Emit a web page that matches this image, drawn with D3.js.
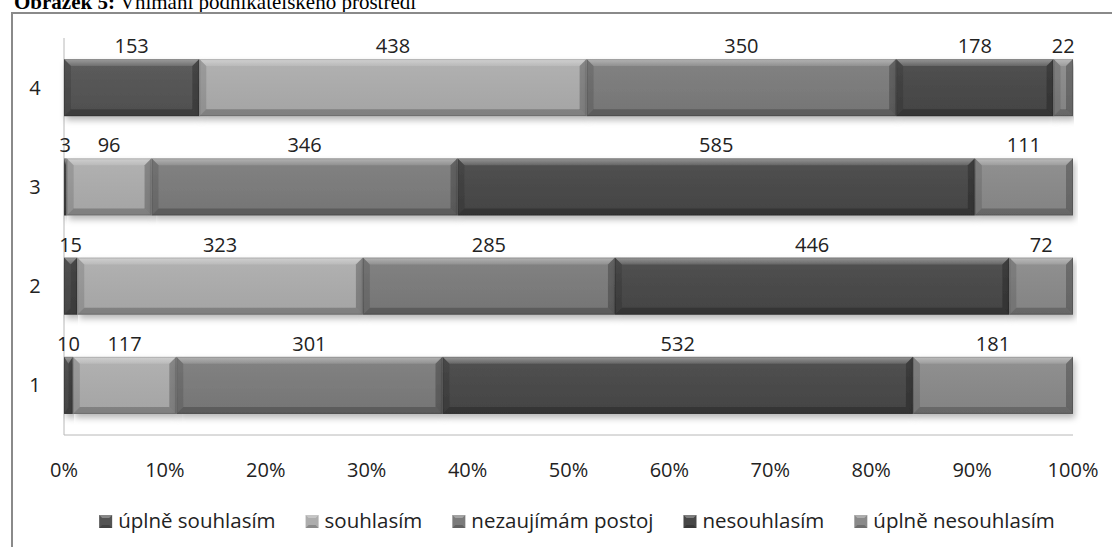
<!DOCTYPE html>
<html><head><meta charset="utf-8">
<script src="https://cdn.jsdelivr.net/npm/d3@7"></script>
<style>body{margin:0;background:#fff;overflow:hidden}</style>
</head><body>
<svg id="c" width="1112" height="547"></svg>
<script>
const categories = ["1", "2", "3", "4"];
const seriesNames = ["úplně souhlasím", "souhlasím", "nezaujímám postoj", "nesouhlasím", "úplně nesouhlasím"];
const uplneSouhlasim = [10, 15, 3, 153];
const souhlasim = [117, 323, 96, 438];
const nezaujimam = [301, 285, 346, 350];
const nesouhlasim = [532, 446, 585, 178];
const uplneNesouhlasim = [181, 72, 111, 22];
const xTicks = [0, 0.1, 0.2, 0.3, 0.4, 0.5, 0.6, 0.7, 0.8, 0.9, 1];
const seriesColors = ["#535353", "#adadad", "#7b7b7b", "#474747", "#8a8a8a"];

const seriesValues = [uplneSouhlasim, souhlasim, nezaujimam, nesouhlasim, uplneNesouhlasim];
const table = categories.map((c, i) => {
  const row = {cat: c};
  seriesNames.forEach((s, j) => row[s] = seriesValues[j][i]);
  return row;
});

const svg = d3.select("#c");
const font = "'Open Sans', sans-serif";
const fs = 20;

// Title (cut off at top, as in the source)
const title = svg.append("text").attr("x", 14).attr("y", 9)
  .attr("font-family", "'Liberation Serif', 'Times New Roman', serif").attr("font-size", 21).attr("fill", "#000");
title.append("tspan").attr("font-weight", "bold").text("Obrázek 5:");
title.append("tspan").text(" Vnímání podnikatelského prostředí");

// Frame
svg.append("rect").attr("x", 12).attr("y", 13).attr("width", 1120).attr("height", 560)
  .attr("fill", "none").attr("stroke", "#8a8a8a").attr("stroke-width", 2);

const defs = svg.append("defs");
defs.append("filter").attr("id", "sh").attr("x", "-5%").attr("y", "-20%").attr("width", "110%").attr("height", "160%")
  .append("feDropShadow").attr("dx", 2).attr("dy", 4).attr("stdDeviation", 3)
  .attr("flood-color", "#000").attr("flood-opacity", 0.28);
const tg = defs.append("linearGradient").attr("id", "topg").attr("x1", 0).attr("y1", 0).attr("x2", 0).attr("y2", 1);
tg.append("stop").attr("offset", 0).attr("stop-color", "#fff").attr("stop-opacity", 0.4);
tg.append("stop").attr("offset", 1).attr("stop-color", "#fff").attr("stop-opacity", 0.12);
const mg = defs.append("linearGradient").attr("id", "midg").attr("x1", 0).attr("y1", 0).attr("x2", 0).attr("y2", 1);
mg.append("stop").attr("offset", 0).attr("stop-color", "#fff").attr("stop-opacity", 0.06);
mg.append("stop").attr("offset", 1).attr("stop-color", "#000").attr("stop-opacity", 0.05);

const x = d3.scaleLinear().domain([0, 1]).range([64, 1073]);
const y = d3.scaleBand().domain(categories.slice().reverse()).range([38, 435]).paddingInner(0.425).paddingOuter(0.2125);

// axis lines
svg.append("line").attr("x1", x(0)).attr("x2", x(0)).attr("y1", 38).attr("y2", 435).attr("stroke", "#b8b8b8").attr("stroke-width", 1);
svg.append("line").attr("x1", x(0)).attr("x2", x(1)).attr("y1", 435).attr("y2", 435).attr("stroke", "#b8b8b8").attr("stroke-width", 1);

const stack = d3.stack().keys(seriesNames).offset(d3.stackOffsetExpand);
const stacked = stack(table);

const bars = svg.append("g");
const b = 7;
stacked.forEach((ser, si) => {
  ser.forEach((d) => {
    const x0 = x(d[0]), x1 = x(d[1]);
    const y0 = y(d.data.cat), y1 = y0 + y.bandwidth();
    const w = x1 - x0;
    const bb = Math.min(b, w / 2);
    const g = bars.append("g").attr("filter", "url(#sh)");
    g.append("rect").attr("x", x0).attr("y", y0).attr("width", w).attr("height", y1 - y0).attr("fill", seriesColors[si]);
    g.append("rect").attr("x", x0).attr("y", y0).attr("width", w).attr("height", y1 - y0).attr("fill", "url(#midg)");
    g.append("polygon").attr("points", [[x0, y0], [x1, y0], [x1 - bb, y0 + b], [x0 + bb, y0 + b]].join(" ")).attr("fill", "url(#topg)");
    g.append("polygon").attr("points", [[x0, y1], [x1, y1], [x1 - bb, y1 - b], [x0 + bb, y1 - b]].join(" ")).attr("fill", "#000").attr("fill-opacity", 0.22);
    g.append("polygon").attr("points", [[x0, y0], [x0 + bb, y0 + b], [x0 + bb, y1 - b], [x0, y1]].join(" ")).attr("fill", "#000").attr("fill-opacity", 0.12);
    g.append("polygon").attr("points", [[x1, y0], [x1 - bb, y0 + b], [x1 - bb, y1 - b], [x1, y1]].join(" ")).attr("fill", "#000").attr("fill-opacity", 0.24);
    g.append("rect").attr("x", x0 + 0.5).attr("y", y0 + 0.5).attr("width", Math.max(0, w - 1)).attr("height", y1 - y0 - 1)
      .attr("fill", "none").attr("stroke", "#000").attr("stroke-opacity", 0.15);
  });
});

// value labels
stacked.forEach((ser) => {
  ser.forEach((d) => {
    svg.append("text").attr("x", (x(d[0]) + x(d[1])) / 2).attr("y", y(d.data.cat) - 6)
      .attr("text-anchor", "middle").attr("font-family", font).attr("font-size", fs).attr("fill", "#222")
      .text(d.data[ser.key]);
  });
});

// category labels
categories.forEach(c => {
  svg.append("text").attr("x", 35).attr("y", y(c) + y.bandwidth() / 2 + 7)
    .attr("text-anchor", "middle").attr("font-family", font).attr("font-size", fs).attr("fill", "#222").text(c);
});

// x tick labels
const fmt = d3.format(".0%");
xTicks.forEach(t => {
  svg.append("text").attr("x", x(t)).attr("y", 477).attr("text-anchor", "middle")
    .attr("font-family", font).attr("font-size", fs).attr("fill", "#222").text(fmt(t));
});

// legend
const leg = svg.append("g");
let cx = 0;
const gap = 30;
seriesNames.forEach((s, i) => {
  const it = leg.append("g");
  it.append("rect").attr("x", 0).attr("y", -13).attr("width", 13).attr("height", 13).attr("fill", seriesColors[i]);
  it.append("polygon").attr("points", "0,-13 13,-13 10,-10 3,-10").attr("fill", "#fff").attr("fill-opacity", 0.3);
  it.append("polygon").attr("points", "0,0 13,0 10,-3 3,-3").attr("fill", "#000").attr("fill-opacity", 0.2);
  const t = it.append("text").attr("x", 19).attr("y", 0).attr("font-family", font).attr("font-size", 20.5).attr("fill", "#222").text(s);
  const w = 19 + t.node().getComputedTextLength();
  it.attr("transform", `translate(${cx},528)`);
  cx += w + gap;
});
const total = cx - gap;
leg.attr("transform", `translate(${577 - total / 2},0)`);
</script>
</body></html>
